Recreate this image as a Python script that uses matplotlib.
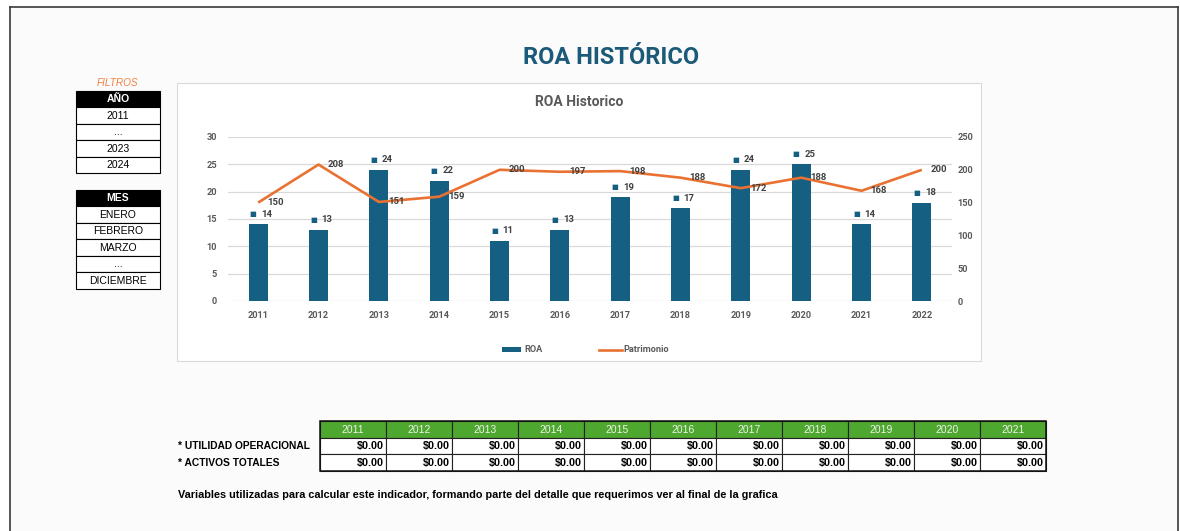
import matplotlib
matplotlib.use('Agg')
import matplotlib.pyplot as plt
from matplotlib.patches import Rectangle
from matplotlib.lines import Line2D
from matplotlib.transforms import Affine2D

# ---------------- data ----------------
years = ['2011', '2012', '2013', '2014', '2015', '2016',
         '2017', '2018', '2019', '2020', '2021', '2022']
roa = [14, 13, 24, 22, 11, 13, 19, 17, 24, 25, 14, 18]
patrimonio = [150, 208, 151, 159, 200, 197, 198, 188, 172, 188, 168, 200]

anio_filtro = ['2011', '...', '2023', '2024']
mes_filtro = ['ENERO', 'FEBRERO', 'MARZO', '...', 'DICIEMBRE']

tabla_years = ['2011', '2012', '2013', '2014', '2015', '2016',
               '2017', '2018', '2019', '2020', '2021']
tabla_rows = ['* UTILIDAD OPERACIONAL', '* ACTIVOS TOTALES']
utilidad = [0.0, 0.0, 0.0, 0.0, 0.0, 0.0, 0.0, 0.0, 0.0, 0.0, 0.0]
activos = [0.0, 0.0, 0.0, 0.0, 0.0, 0.0, 0.0, 0.0, 0.0, 0.0, 0.0]

# ---------------- styles ----------------
W, H = 1180, 531
BLUE = '#156082'
ORANGE = '#E97132'
GREEN = '#4EA72E'
GREY_TXT = '#595959'
LBL_TXT = '#404040'
CHART_FONT = ['Roboto', 'DejaVu Sans']
NARROW = ['Liberation Sans Narrow', 'Liberation Sans', 'DejaVu Sans']

fig = plt.figure(figsize=(W / 100, H / 100), dpi=100)
fig.patch.set_facecolor('white')
pix = Affine2D().scale(1 / W, -1 / H).translate(0, 1) + fig.transFigure


def ax_rect(x0, y0, x1, y1):
    return [x0 / W, 1 - y1 / H, (x1 - x0) / W, (y1 - y0) / H]


def rect(x, y, w, h, fc, ec='none', lw=0.0, z=-2):
    fig.add_artist(Rectangle((x, y), w, h, transform=pix, facecolor=fc,
                             edgecolor=ec, linewidth=lw, zorder=z))


def line(xs, ys, color, lw, z=-1):
    fig.add_artist(Line2D(xs, ys, transform=pix, color=color, lw=lw, zorder=z))


def txt(x, y, s, **kw):
    kw.setdefault('transform', pix)
    fig.text(x, y, s, **kw)


# sheet frame
rect(10, 7, 1168, 530, '#fbfbfb', z=-5)
line([10, 1178], [7, 7], '#3a3a3a', 1.2)
line([10, 10], [7, 531], '#3a3a3a', 1.2)
line([1178, 1178], [7, 531], '#3a3a3a', 1.2)

# main title
txt(611, 57, 'ROA HISTÓRICO', ha='center', va='center', fontsize=17,
    fontweight='bold', color='#1B5A79', family=CHART_FONT)

# chart box
rect(177, 83, 804, 278, 'white', ec='#d9d9d9', lw=0.8, z=-3)
txt(579, 102, 'ROA Historico', ha='center', va='center', fontsize=10,
    fontweight='bold', color=GREY_TXT, family=CHART_FONT)

# ---------------- chart ----------------
ax = fig.add_axes(ax_rect(228, 137, 952, 301))
ax.set_facecolor('none')
x = list(range(len(years)))
ax.bar(x, roa, width=0.32, color=BLUE, zorder=3)
ax.set_xlim(-0.5, len(years) - 0.5)
ax.set_ylim(0, 30)
ax.set_yticks([0, 5, 10, 15, 20, 25, 30])
ax.set_xticks(x)
ax.set_xticklabels(years)
ax.grid(axis='y', color='#d9d9d9', lw=0.9)
ax.set_axisbelow(True)
for s in ax.spines.values():
    s.set_visible(False)
ax.tick_params(axis='both', length=0, labelsize=6.6, labelcolor=GREY_TXT)
ax.tick_params(axis='y', pad=8)
ax.tick_params(axis='x', pad=7)
for lab in ax.get_xticklabels() + ax.get_yticklabels():
    lab.set_fontweight('bold')
    lab.set_family(CHART_FONT)

for i, v in zip(x, roa):
    ax.annotate('■', (i, v), xytext=(-5, 10), textcoords='offset pixels',
                ha='center', va='center', fontsize=5.2, color=BLUE,
                family='DejaVu Sans', zorder=5)
    ax.annotate(str(v), (i, v), xytext=(3, 10), textcoords='offset pixels',
                ha='left', va='center', fontsize=6.8, color=LBL_TXT,
                fontweight='bold', family=CHART_FONT, zorder=5)

ax2 = ax.twinx()
ax2.set_facecolor('none')
ax2.plot(x, patrimonio, color=ORANGE, lw=1.9, solid_joinstyle='round',
         solid_capstyle='butt', zorder=4)
ax2.set_ylim(0, 250)
ax2.set_yticks([0, 50, 100, 150, 200, 250])
for s in ax2.spines.values():
    s.set_visible(False)
ax2.tick_params(axis='y', length=0, labelsize=6.6, labelcolor=GREY_TXT, pad=4)
for lab in ax2.get_yticklabels():
    lab.set_fontweight('bold')
    lab.set_family(CHART_FONT)
for i, v in zip(x, patrimonio):
    ax2.annotate(str(v), (i, v), xytext=(9, 0), textcoords='offset pixels',
                 ha='left', va='center', fontsize=6.8, color=LBL_TXT,
                 fontweight='bold', family=CHART_FONT, zorder=6)

# legend (manual, pixel layout)
rect(502, 347, 19, 5, BLUE, z=2)
txt(524, 350, 'ROA', ha='left', va='center', fontsize=6.6, fontweight='bold',
    color=GREY_TXT, family=CHART_FONT)
line([599, 622], [350, 350], ORANGE, 1.9, z=2)
txt(623, 350, 'Patrimonio', ha='left', va='center', fontsize=6.6,
    fontweight='bold', color=GREY_TXT, family=CHART_FONT)

# ---------------- filters ----------------
txt(117, 83, 'FILTROS', ha='center', va='center', fontsize=7.2, style='italic',
    color='#F0813F', family=NARROW)


def filter_table(top, header, items):
    rh = 16.5
    x0, w = 76, 84
    rect(x0, top, w, rh, 'black', ec='black', lw=0.8, z=-1)
    txt(x0 + w / 2, top + rh / 2 + 0.5, header, ha='center', va='center',
        fontsize=7.5, fontweight='bold', color='white', family=NARROW)
    for k, it in enumerate(items):
        y = top + rh * (k + 1)
        rect(x0, y, w, rh, 'white', ec='black', lw=0.8, z=-1)
        txt(x0 + w / 2, y + rh / 2 + 0.5, it, ha='center', va='center',
            fontsize=7.5, color='black', family=NARROW)


filter_table(90.5, 'AÑO', anio_filtro)
filter_table(189.5, 'MES', mes_filtro)

# ---------------- bottom table ----------------
tx0, cw = 320, 66
rows_y = [421, 437.5, 454, 470.5]
for j, yr in enumerate(tabla_years):
    cx = tx0 + j * cw
    rect(cx, rows_y[0], cw, rows_y[1] - rows_y[0], GREEN, ec='#222222',
         lw=0.8, z=-1)
    txt(cx + cw / 2, (rows_y[0] + rows_y[1]) / 2 + 0.5, yr, ha='center',
        va='center', fontsize=7.5, color='#EEF3EA', family=NARROW)
for r, (lab, vals) in enumerate(zip(tabla_rows, [utilidad, activos])):
    y0, y1 = rows_y[r + 1], rows_y[r + 2]
    txt(178, (y0 + y1) / 2 + 0.5, lab, ha='left', va='center', fontsize=7.4,
        fontweight='bold', color='black', family=NARROW)
    for j, v in enumerate(vals):
        cx = tx0 + j * cw
        rect(cx, y0, cw, y1 - y0, 'white', ec='#222222', lw=0.8, z=-1)
        txt(cx + cw - 2, (y0 + y1) / 2 + 0.5, f'${v:,.2f}', ha='right',
            va='center', fontsize=7.8, fontweight='bold', color='black',
            family=NARROW)
rect(tx0, rows_y[0], cw * len(tabla_years), rows_y[-1] - rows_y[0], 'none',
     ec='#111111', lw=1.1, z=0)

txt(178, 495, 'Variables utilizadas para calcular este indicador, formando '
    'parte del detalle que requerimos ver al final de la grafica',
    ha='left', va='center', fontsize=7.8, fontweight='bold', color='black',
    family=NARROW)

fig.savefig('out.png', dpi=100, facecolor=fig.get_facecolor())
